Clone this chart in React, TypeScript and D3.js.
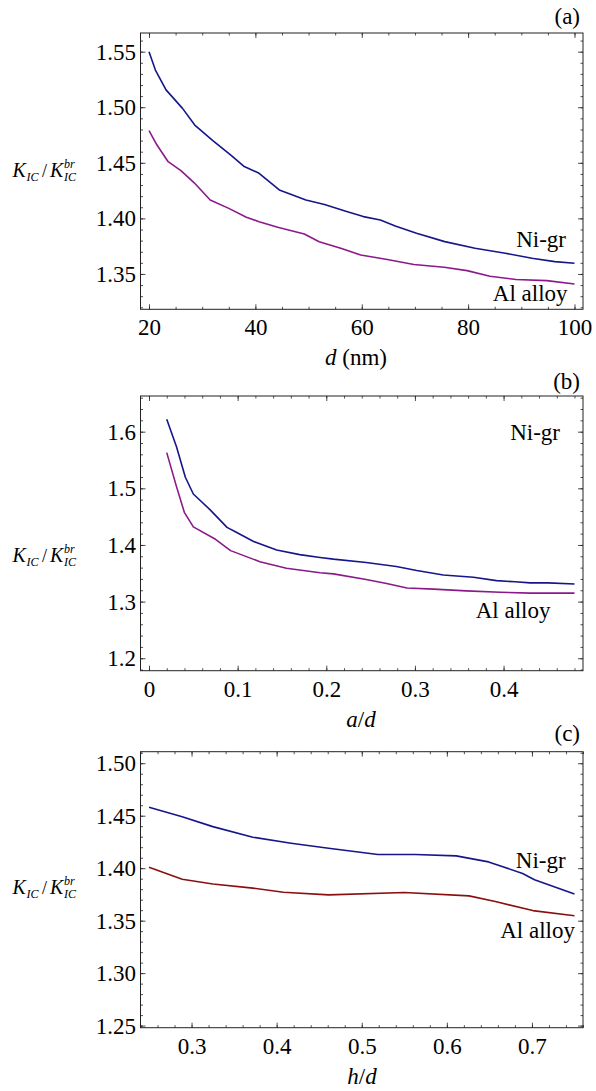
import React, { useEffect, useRef } from "react";
import * as d3 from "d3";

// (a) K_IC / K_IC^br vs d (nm)
const niGrA = [
  [20, 1.55], [21.2, 1.5335], [23.2, 1.5156], [26.3, 1.499], [28.6, 1.484],
  [32, 1.47], [35.5, 1.4565], [37.8, 1.447], [40.7, 1.4406], [44.5, 1.4256],
  [49.5, 1.4165], [53, 1.4125], [57, 1.4065], [60.3, 1.4016], [63.5, 1.3986],
  [66.3, 1.3932], [70.3, 1.3866], [75.6, 1.3791], [81.3, 1.3731], [87, 1.3686],
  [92, 1.3641], [96.3, 1.3611], [100, 1.3596],
];
const alA = [
  [20, 1.479], [21.5, 1.466], [23.6, 1.451], [26, 1.443], [28.5, 1.432],
  [31.5, 1.4165], [35, 1.409], [38.3, 1.401], [40.7, 1.397], [44.2, 1.392],
  [49.2, 1.386], [52, 1.379], [56.2, 1.373], [59.8, 1.367], [64.8, 1.363],
  [69.8, 1.3585], [75.5, 1.356], [79.8, 1.353], [84.1, 1.348], [89, 1.345],
  [94.8, 1.344], [100, 1.341],
];
const xTicksA = [20, 40, 60, 80, 100];
const yTicksA = [1.35, 1.4, 1.45, 1.5, 1.55];

// (b) vs a/d
const niGrB = [
  [0.02, 1.622], [0.031, 1.5735], [0.041, 1.5195], [0.05, 1.49], [0.069, 1.462],
  [0.088, 1.431], [0.099, 1.422], [0.118, 1.406], [0.144, 1.391], [0.17, 1.383],
  [0.193, 1.378], [0.208, 1.375], [0.245, 1.369], [0.279, 1.362], [0.302, 1.355],
  [0.332, 1.347], [0.366, 1.343], [0.392, 1.337], [0.413, 1.335], [0.43, 1.333],
  [0.45, 1.333], [0.48, 1.331],
];
const alB = [
  [0.02, 1.563], [0.031, 1.503], [0.04, 1.457], [0.05, 1.432], [0.075, 1.41],
  [0.092, 1.39], [0.125, 1.3705], [0.155, 1.359], [0.193, 1.351], [0.208, 1.349],
  [0.245, 1.339], [0.268, 1.332], [0.291, 1.324], [0.321, 1.322], [0.358, 1.319],
  [0.396, 1.3165], [0.43, 1.315], [0.48, 1.315],
];
const xTicksB = [0, 0.1, 0.2, 0.3, 0.4];
const yTicksB = [1.2, 1.3, 1.4, 1.5, 1.6];

// (c) vs h/d
const niGrC = [
  [0.25, 1.458], [0.289, 1.449], [0.325, 1.4396], [0.372, 1.4295], [0.417, 1.4238],
  [0.461, 1.419], [0.519, 1.413], [0.563, 1.413], [0.611, 1.4117], [0.649, 1.406],
  [0.689, 1.395], [0.703, 1.389], [0.75, 1.3755],
];
const alC = [
  [0.25, 1.401], [0.289, 1.3895], [0.325, 1.385], [0.372, 1.381], [0.408, 1.377],
  [0.461, 1.3746], [0.55, 1.3768], [0.626, 1.3736], [0.657, 1.3682], [0.701, 1.3596],
  [0.75, 1.3546],
];
const xTicksC = [0.3, 0.4, 0.5, 0.6, 0.7];
const yTicksC = [1.25, 1.3, 1.35, 1.4, 1.45, 1.5];

const W = 596;
const H = 1091;
const LEFT = 140.5;
const RIGHT = 583;
const FONT = "Liberation Serif";
const FS = 23;
const NAVY = "#16168a";
const PURPLE = "#8a1a8a";
const DARKRED = "#8a1010";

const panels = [
  {
    tag: "(a)", tagY: 24, top: 33, bottom: 309.3,
    xDomain: [18.4, 101.6], yDomain: [1.3182, 1.5668],
    xTicks: xTicksA, yTicks: yTicksA, xMinor: 5, yMinor: 0.01,
    xFmt: (d) => String(d), yFmt: (d) => d.toFixed(2),
    series: [{ data: niGrA, color: NAVY }, { data: alA, color: PURPLE }],
    labels: [{ text: "Ni-gr", x: 566, y: 246.5 }, { text: "Al alloy", x: 567.6, y: 301.4 }],
    xTitle: [["d", true], [" (nm)", false]], titleX: 356, kY: 176.7,
  },
  {
    tag: "(b)", tagY: 389, top: 396, bottom: 670.7,
    xDomain: [-0.0096, 0.4896], yDomain: [1.178, 1.663],
    xTicks: xTicksB, yTicks: yTicksB, xMinor: 0.02, yMinor: 0.02,
    xFmt: (d) => String(d), yFmt: (d) => d.toFixed(1),
    series: [{ data: niGrB, color: NAVY }, { data: alB, color: PURPLE }],
    labels: [{ text: "Ni-gr", x: 560, y: 439.7 }, { text: "Al alloy", x: 550.5, y: 618 }],
    xTitle: [["a", true], ["/", false], ["d", true]], titleX: 361, kY: 561.5,
  },
  {
    tag: "(c)", tagY: 741, top: 751.7, bottom: 1027.7,
    xDomain: [0.24, 0.76], yDomain: [1.248, 1.511],
    xTicks: xTicksC, yTicks: yTicksC, xMinor: 0.02, yMinor: 0.01,
    xFmt: (d) => d.toFixed(1), yFmt: (d) => d.toFixed(2),
    series: [{ data: niGrC, color: NAVY }, { data: alC, color: DARKRED }],
    labels: [{ text: "Ni-gr", x: 565.7, y: 868 }, { text: "Al alloy", x: 575, y: 938 }],
    xTitle: [["h", true], ["/", false], ["d", true]], titleX: 362, kY: 894,
  },
];

const minorValues = (domain, step) => {
  const start = Math.ceil(domain[0] / step - 1e-6) * step;
  return d3.range(start, domain[1] + 1e-9, step);
};

const App = () => {
  const svgRef = useRef(null);

  useEffect(() => {
    const svg = d3.select(svgRef.current);
    svg.selectAll("*").remove();

    panels.forEach((p) => {
      const x = d3.scaleLinear().domain(p.xDomain).range([LEFT, RIGHT]);
      const y = d3.scaleLinear().domain(p.yDomain).range([p.bottom, p.top]);
      const g = svg.append("g");

      const xm = minorValues(p.xDomain, p.xMinor);
      const ym = minorValues(p.yDomain, p.yMinor);

      const styleAxis = (sel) => {
        sel.select(".domain").remove();
        sel.attr("font-family", FONT).attr("font-size", FS).attr("color", "#222");
        sel.selectAll("line").attr("stroke-width", 0.8);
        sel.selectAll("text").attr("fill", "#000").attr("font-family", FONT);
      };

      // minor ticks, all four sides
      [
        [d3.axisBottom(x).tickValues(xm), `translate(0,${p.bottom})`],
        [d3.axisTop(x).tickValues(xm), `translate(0,${p.top})`],
        [d3.axisLeft(y).tickValues(ym), `translate(${LEFT},0)`],
        [d3.axisRight(y).tickValues(ym), `translate(${RIGHT},0)`],
      ].forEach(([ax, tr]) => {
        g.append("g").attr("transform", tr)
          .call(ax.tickSize(-2.5).tickFormat(() => ""))
          .call(styleAxis);
      });

      // major ticks
      const xAxisG = g.append("g").attr("transform", `translate(0,${p.bottom})`)
        .call(d3.axisBottom(x).tickValues(p.xTicks).tickSize(-5).tickFormat(p.xFmt))
        .call(styleAxis);
      xAxisG.selectAll("text").attr("y", 26).attr("dy", "0");

      const yAxisG = g.append("g").attr("transform", `translate(${LEFT},0)`)
        .call(d3.axisLeft(y).tickValues(p.yTicks).tickSize(-5).tickFormat(p.yFmt))
        .call(styleAxis);
      yAxisG.selectAll("text").attr("x", -4.5).attr("dy", "0.33em");

      g.append("g").attr("transform", `translate(0,${p.top})`)
        .call(d3.axisTop(x).tickValues(p.xTicks).tickSize(-5).tickFormat(() => ""))
        .call(styleAxis);
      g.append("g").attr("transform", `translate(${RIGHT},0)`)
        .call(d3.axisRight(y).tickValues(p.yTicks).tickSize(-5).tickFormat(() => ""))
        .call(styleAxis);

      // frame
      g.append("rect")
        .attr("x", LEFT).attr("y", p.top)
        .attr("width", RIGHT - LEFT).attr("height", p.bottom - p.top)
        .attr("fill", "none").attr("stroke", "#222").attr("stroke-width", 1);

      const line = d3.line().x((d) => x(d[0])).y((d) => y(d[1]));
      p.series.forEach((s) => {
        g.append("path")
          .attr("d", line(s.data))
          .attr("fill", "none")
          .attr("stroke", s.color)
          .attr("stroke-width", 1.6)
          .attr("stroke-linejoin", "round");
      });

      const txt = (parent, xx, yy, size, italic, t) =>
        parent.append("text")
          .attr("x", xx).attr("y", yy)
          .attr("font-family", FONT)
          .attr("font-size", size)
          .attr("font-style", italic ? "italic" : "normal")
          .attr("fill", "#000")
          .text(t);

      p.labels.forEach((l) => {
        txt(g, l.x, l.y, FS, false, l.text).attr("text-anchor", "end");
      });

      txt(g, 580, p.tagY, FS, false, p.tag).attr("text-anchor", "end");

      // x axis title
      const xt = txt(g, p.titleX, p.bottom + 56, FS, false, null).attr("text-anchor", "middle");
      p.xTitle.forEach(([t, it]) => {
        xt.append("tspan").attr("font-style", it ? "italic" : "normal").text(t);
      });

      // y axis title: K_IC / K_IC^br
      const ky = p.kY;
      txt(g, 12.5, ky, 20, true, "K");
      txt(g, 26.5, ky + 4, 12, true, "IC");
      txt(g, 42, ky, 18, false, "/");
      txt(g, 50, ky, 20, true, "K");
      txt(g, 64, ky - 9, 12, true, "br");
      txt(g, 64, ky + 4, 12, true, "IC");
    });
  }, []);

  return (
    <svg
      ref={svgRef}
      width={W}
      height={H}
      style={{ position: "absolute", left: 0, top: 0, background: "#fff" }}
    />
  );
};

export default App;
